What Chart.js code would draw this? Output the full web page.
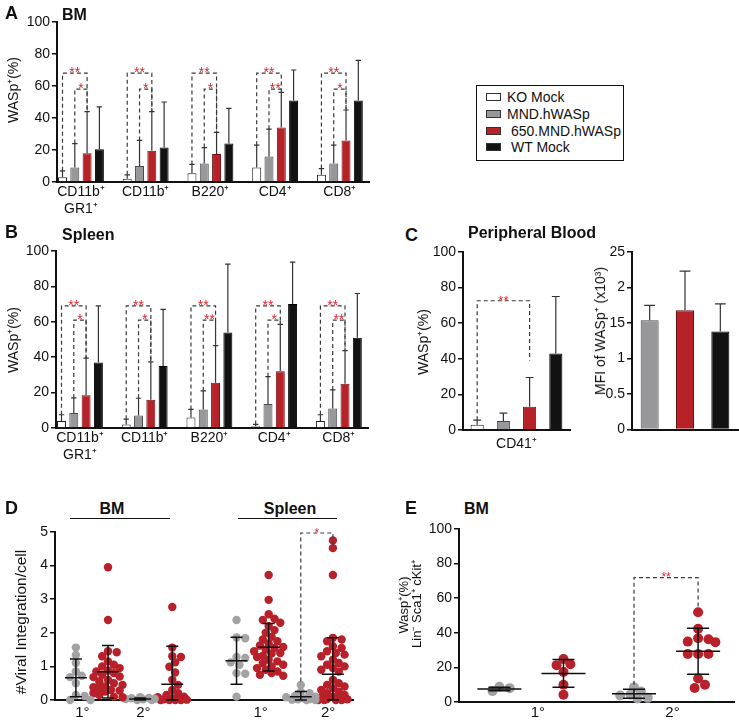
<!DOCTYPE html>
<html>
<head>
<meta charset="utf-8">
<script src="https://cdn.jsdelivr.net/npm/chart.js@4.4.1/dist/chart.umd.min.js"></script>
<style>
  body { margin: 0; background: #fff; }
  #page { position: relative; width: 739px; height: 723px; overflow: hidden; font-family: 'Liberation Sans', Arial, Helvetica, sans-serif; color: #111; }
  canvas { position: absolute; }
  .lbl { position: absolute; white-space: nowrap; line-height: 1; }
  .legend { position: absolute; left: 476px; top: 85px; width: 148px; height: 76px; box-sizing: border-box; border: 1.5px solid #111; }
  .sw { position: absolute; left: 486px; width: 15px; height: 8px; box-sizing: border-box; border: 1px solid #333; }
  .rule { position: absolute; height: 0; border-top: 1px solid #111; }
</style>
</head>
<body>
<div id="page">
  <canvas id="chartA"></canvas>
  <canvas id="chartB"></canvas>
  <canvas id="chartC1"></canvas>
  <canvas id="chartC2"></canvas>
  <canvas id="chartD"></canvas>
  <canvas id="chartE"></canvas>
  <div class="legend"></div>
</div>
<script>
// ---- data ----
const cellTypes = [['CD11b⁺', 'GR1⁺'], 'CD11b⁺', 'B220⁺', 'CD4⁺', 'CD8⁺'];
const groups = ['KO Mock', 'MND.hWASp', '650.MND.hWASp', 'WT Mock'];

// A: bone marrow, WASp+ (%) mean and SD
const bmKo = [3, 2, 5.5, 9, 4.6];
const bmKoSd = [4, 2.5, 5.5, 14, 3.8];
const bmMnd = [9, 10, 11.5, 16, 11.6];
const bmMndSd = [15, 16, 10, 17, 11.4];
const bm650 = [18, 19.5, 17.5, 34, 26];
const bm650Sd = [26, 24.5, 13.5, 22, 19];
const bmWt = [20.5, 21.5, 24, 51, 51];
const bmWtSd = [26.5, 28.5, 22, 19, 25];
const bmSig = [['**', '*'], ['**', '*'], ['**', '*'], ['**', '**'], ['**', '*']];

// B: spleen
const spKo = [4, 2, 6, 1, 4];
const spKoSd = [3.5, 3, 4.5, 1, 3.5];
const spMnd = [8.5, 7, 10.5, 13.5, 11];
const spMndSd = [8.5, 9.8, 10.5, 15.5, 10.5];
const sp650 = [18.5, 16, 25.5, 32, 25];
const sp650Sd = [21, 21.4, 21, 26.5, 18.7];
const spWt = [37, 35, 54, 70, 51];
const spWtSd = [32, 32, 38.6, 23.7, 25];
const spSig = [['**', '*'], ['**', '*'], ['**', '**'], ['**', '*'], ['**', '**']];

// C: peripheral blood
const pbLabel = ['CD41⁺'];
const pbMean = [3, 5, 13, 43];
const pbSd = [2.5, 4.5, 16.5, 32];
const mfiMean = [1.54, 1.68, 1.38];
const mfiSd = [0.21, 0.55, 0.39];
const mfiTickText = ['0', '0.5', '1', '15', '2', '25'];

// D: viral integrations per cell
const dBm1Ko = [1.56, 1.34, 1.1, 0.85, 0.72, 0.68, 0.5, 0.15, 0.12, 0, 0];
const dBm1Tx = [3.95, 2.38, 1.45, 1.42, 1.3, 1.15, 1.05, 1.0, 0.95, 0.88, 0.85, 0.8, 0.75, 0.7, 0.68, 0.6, 0.55, 0.5, 0.45, 0.4, 0.38, 0.35, 0.3, 0.28, 0.25, 0.2, 0.15, 0.1, 0.08];
const dBm2Ko = [0.08, 0.06, 0.05, 0.04, 0.03, 0.02, 0, 0];
const dBm2Tx = [2.77, 1.56, 1.3, 1.28, 1.12, 0.99, 0.82, 0.6, 0.45, 0.3, 0.2, 0.15, 0.1, 0.08, 0.05, 0.03, 0.02, 0.01, 0, 0, 0, 0];
const dSp1Ko = [2.38, 1.86, 1.84, 1.28, 1.25, 1.12, 1.05, 0.8, 0.78, 0.1];
const dSp1Tx = [3.72, 2.98, 2.55, 2.42, 2.38, 2.3, 2.2, 2.08, 2.0, 1.88, 1.8, 1.75, 1.68, 1.62, 1.58, 1.55, 1.5, 1.45, 1.4, 1.38, 1.32, 1.28, 1.2, 1.15, 1.1, 1.05, 1.0, 0.95, 0.9, 0.85, 0.8, 0.75, 0.72];
const dSp2Ko = [0.45, 0.25, 0.2, 0.12, 0.1, 0.08, 0.05, 0.03, 0.02, 0.01, 0, 0];
const dSp2Tx = [4.75, 4.52, 3.72, 1.85, 1.8, 1.75, 1.6, 1.55, 1.45, 1.4, 1.35, 1.3, 1.2, 1.1, 1.05, 1.0, 0.95, 0.9, 0.85, 0.6, 0.5, 0.45, 0.4, 0.35, 0.3, 0.25, 0.2, 0.15, 0.1, 0.08, 0.05, 0.03, 0.02, 0, 0, 0, 0];
const dMeans = [0.66, 0.84, 0.03, 0.47, 1.17, 1.57, 0.1, 0.77];
const dSds = [0.56, 0.78, 0.03, 1.13, 0.7, 0.71, 0.15, 1.08];
const dTickText = ['1°', '2°', '1°', '2°'];

// E: WASp+ in Lin- Sca1+ cKit+ (BM)
const eKo1 = [8.8, 8.0, 6.3];
const eTx1 = [24.8, 21.8, 21.3, 17.3, 10, 4.2];
const eKo2 = [8.5, 6.0, 4.3, 3.8, 2.4, 2.0];
const eTx2 = [51.9, 42.3, 36.9, 36.3, 34.9, 34.6, 27.7, 27.7, 27.7, 13.6, 10, 8.1];
const eMeans = [7.5, 16.5, 4.8, 29.4];
const eSds = [1, 8, 2.6, 13.3];
const eTickText = ['1°', '2°'];

// ---- styling ----
const FONT = "'Liberation Sans', Arial, Helvetica, sans-serif";
Chart.defaults.font.family = FONT;
Chart.defaults.color = '#111';
Chart.defaults.animation = false;

const fills = ['#ffffff', '#98979b', '#b72228', '#121212'];
const edges = ['#222222', '#4a4a4d', '#6e1014', '#000000'];
const dotGray = '#a3a3a6';
const dotRed = '#b8202a';
const page = document.getElementById('page');

function label(text, x, y, size, opts = {}) {
  const el = document.createElement('div');
  el.className = 'lbl';
  el.textContent = text;
  el.style.fontSize = size + 'px';
  if (opts.bold) el.style.fontWeight = 'bold';
  if (opts.rotate) {
    el.style.left = x + 'px';
    el.style.top = y + 'px';
    el.style.transform = 'translate(-50%,-50%) rotate(-90deg)';
  } else {
    el.style.top = (y - size * 0.5) + 'px';
    el.style.left = x + 'px';
    if (opts.center) el.style.transform = 'translateX(-50%)';
  }
  page.appendChild(el);
}

function rule(x1, x2, y) {
  const el = document.createElement('div');
  el.className = 'rule';
  el.style.left = x1 + 'px';
  el.style.width = (x2 - x1) + 'px';
  el.style.top = y + 'px';
  page.appendChild(el);
}

function place(id, area, axisW, padTop, padRight, axisH) {
  const c = document.getElementById(id);
  c.width = area.x1 - area.x0 + axisW + padRight;
  c.height = area.y1 - area.y0 + padTop + axisH;
  c.style.width = c.width + 'px';
  c.style.height = c.height + 'px';
  c.style.left = (area.x0 - axisW) + 'px';
  c.style.top = (area.y0 - padTop) + 'px';
  return c;
}

function yAxis(max, step, axisW, size, tickText) {
  return {
    min: 0, max,
    afterFit: s => { s.width = axisW; },
    ticks: { stepSize: step, padding: 2, font: { size }, color: '#111',
      callback: tickText ? v => tickText[Math.round(v / step)] : undefined },
    grid: { drawOnChartArea: false, tickLength: 5, color: '#111', lineWidth: 1.5 },
    border: { color: '#111', width: 2 }
  };
}

function bracket(ctx, x1, x2, top, b1, b2, text, size) {
  ctx.save();
  ctx.strokeStyle = '#3a3a3a';
  ctx.lineWidth = 1.2;
  ctx.setLineDash([4, 3]);
  ctx.beginPath();
  ctx.moveTo(x1, b1);
  ctx.lineTo(x1, top);
  ctx.lineTo(x2, top);
  ctx.lineTo(x2, b2);
  ctx.stroke();
  ctx.setLineDash([]);
  ctx.fillStyle = '#d9262f';
  ctx.font = size + 'px ' + FONT;
  ctx.textAlign = 'center';
  ctx.textBaseline = 'alphabetic';
  ctx.fillText(text, (x1 + x2) / 2, top + size * 0.3);
  ctx.restore();
}

function barErrors(means, sds) {
  return {
    id: 'barErrors',
    afterDatasetsDraw(chart) {
      const ctx = chart.ctx, y = chart.scales.y;
      ctx.save();
      ctx.strokeStyle = '#333';
      ctx.lineWidth = 1.2;
      chart.data.datasets.forEach((ds, i) => {
        chart.getDatasetMeta(i).data.forEach((bar, j) => {
          const top = y.getPixelForValue(means[i][j] + sds[i][j]);
          const cap = bar.width * 0.3;
          ctx.beginPath();
          ctx.moveTo(bar.x, bar.y);
          ctx.lineTo(bar.x, top);
          ctx.moveTo(bar.x - cap, top);
          ctx.lineTo(bar.x + cap, top);
          ctx.stroke();
        });
      });
      ctx.restore();
    }
  };
}

function barBrackets(list, size) {
  return {
    id: 'barBrackets',
    afterDatasetsDraw(chart) {
      const y = chart.scales.y;
      list.forEach(b => {
        const p = chart.getDatasetMeta(b.from).data[b.at];
        const q = chart.getDatasetMeta(b.to).data[b.at];
        bracket(chart.ctx, p.x, q.x, y.getPixelForValue(b.y),
          y.getPixelForValue(b.yFrom), y.getPixelForValue(b.yTo), b.text, size);
      });
    }
  };
}

// ---- A and B: grouped bars ----
function cellPanel(id, area, means, sds, sig, outerY, innerY) {
  const canvas = place(id, area, area.x0, 12, 4, 42);
  const list = sig.flatMap((s, j) => [
    { at: j, from: 0, to: 2, y: outerY, yFrom: means[0][j] + sds[0][j], yTo: means[2][j] + sds[2][j], text: s[0] },
    { at: j, from: 1, to: 2, y: innerY, yFrom: means[1][j] + sds[1][j], yTo: means[2][j] + sds[2][j], text: s[1] }
  ]);
  new Chart(canvas, {
    type: 'bar',
    data: {
      datasets: groups.map((g, i) => ({
        label: g,
        data: means[i].map((v, j) => ({ x: j, y: v })),
        backgroundColor: fills[i],
        borderColor: edges[i],
        borderWidth: 1,
        categoryPercentage: 0.76,
        barPercentage: 0.73
      }))
    },
    options: {
      responsive: false,
      layout: { padding: { top: 12, right: 4, left: 0, bottom: 0 } },
      plugins: { legend: { display: false }, tooltip: { enabled: false } },
      scales: {
        x: {
          type: 'linear', min: -0.37, max: 4.45, offset: false,
          afterBuildTicks: s => { s.ticks = cellTypes.map((_, i) => ({ value: i })); },
          afterFit: s => { s.height = 42; },
          ticks: { autoSkip: false, maxRotation: 0, padding: 2, font: { size: 14 }, color: '#111',
            callback: v => cellTypes[v] },
          grid: { display: false, drawTicks: false },
          border: { color: '#111', width: 2 }
        },
        y: yAxis(100, 20, area.x0, 14)
      }
    },
    plugins: [barErrors(means, sds), barBrackets(list, 14)]
  });
}

cellPanel('chartA', { x0: 57, x1: 369, y0: 22, y1: 182 },
  [bmKo, bmMnd, bm650, bmWt], [bmKoSd, bmMndSd, bm650Sd, bmWtSd], bmSig, 68, 58);
cellPanel('chartB', { x0: 56, x1: 368, y0: 251, y1: 428 },
  [spKo, spMnd, sp650, spWt], [spKoSd, spMndSd, sp650Sd, spWtSd], spSig, 69, 61);

// ---- C left: WASp+ in CD41+ ----
{
  const area = { x0: 463, x1: 570, y0: 252, y1: 430 };
  const canvas = place('chartC1', area, 40, 12, 2, 24);
  new Chart(canvas, {
    type: 'bar',
    data: {
      labels: pbLabel,
      datasets: groups.map((g, i) => ({
        label: g, data: [pbMean[i]],
        backgroundColor: fills[i], borderColor: edges[i], borderWidth: 1,
        categoryPercentage: 0.98, barPercentage: 0.5
      }))
    },
    options: {
      responsive: false,
      layout: { padding: { top: 12, right: 2, left: 0, bottom: 0 } },
      plugins: { legend: { display: false }, tooltip: { enabled: false } },
      scales: {
        x: {
          afterFit: s => { s.height = 24; },
          ticks: { padding: 6, font: { size: 14 }, color: '#111' },
          grid: { display: false, drawTicks: false },
          border: { color: '#111', width: 2 }
        },
        y: yAxis(100, 20, 40, 14)
      }
    },
    plugins: [
      barErrors(pbMean.map(v => [v]), pbSd.map(v => [v])),
      barBrackets([{ at: 0, from: 0, to: 2, y: 72.6, yFrom: pbMean[0] + pbSd[0], yTo: 39, text: '**' }], 13)
    ]
  });
}

// ---- C right: MFI ----
{
  const area = { x0: 632, x1: 738, y0: 252, y1: 430 };
  const canvas = place('chartC2', area, 32, 12, 1, 10);
  new Chart(canvas, {
    type: 'bar',
    data: {
      labels: groups.slice(1),
      datasets: [{
        label: 'MFI', data: mfiMean,
        backgroundColor: fills.slice(1), borderColor: edges.slice(1), borderWidth: 1,
        categoryPercentage: 1, barPercentage: 0.51
      }]
    },
    options: {
      responsive: false,
      layout: { padding: { top: 12, right: 1, left: 0, bottom: 0 } },
      plugins: { legend: { display: false }, tooltip: { enabled: false } },
      scales: {
        x: {
          afterFit: s => { s.height = 10; },
          ticks: { display: false },
          grid: { display: false, drawTicks: false },
          border: { color: '#111', width: 2 }
        },
        y: yAxis(2.5, 0.5, 32, 14, mfiTickText)
      }
    },
    plugins: [barErrors([mfiMean], [mfiSd])]
  });
}

// ---- D and E: dot plots with mean +/- SD ----
// spread dots sideways so they overlap less, within maxOff pixels of the column
function swarm(values, center, r, pxX, pxY, maxOff) {
  const placed = [];
  return values.map(v => {
    let best = 0, bestGap = -1;
    for (let k = 0; ; k++) {
      const off = (k % 2 ? 1 : -1) * Math.ceil(k / 2) * r * 0.7;
      if (Math.abs(off) > maxOff) break;
      const gap = Math.min(Infinity, ...placed.map(p => Math.hypot(p.o - off, (p.v - v) * pxY)));
      if (gap >= 1.6 * r) { best = off; break; }
      if (gap > bestGap) { best = off; bestGap = gap; }
    }
    placed.push({ o: best, v });
    return { x: center + best / pxX, y: v };
  });
}

function dotPanel(id, area, cfg) {
  const canvas = place(id, area, 40, 12, 1, cfg.axisH);
  const pxX = (area.x1 - area.x0) / (cfg.xMax - cfg.xMin);
  const pxY = (area.y1 - area.y0) / cfg.yMax;
  new Chart(canvas, {
    type: 'scatter',
    data: {
      datasets: cfg.sets.map((vals, i) => ({
        data: swarm(vals, cfg.pos[i], cfg.r, pxX, pxY, cfg.maxOff),
        backgroundColor: i % 2 ? dotRed : dotGray,
        borderWidth: 0,
        pointRadius: cfg.r,
        clip: false
      }))
    },
    options: {
      responsive: false,
      layout: { padding: { top: 12, right: 1, left: 0, bottom: 0 } },
      plugins: { legend: { display: false }, tooltip: { enabled: false } },
      scales: {
        x: {
          type: 'linear', min: cfg.xMin, max: cfg.xMax,
          afterBuildTicks: s => { s.ticks = cfg.ticksAt.map(v => ({ value: v })); },
          afterFit: s => { s.height = cfg.axisH; },
          ticks: { autoSkip: false, maxRotation: 0, padding: cfg.tickPad, font: { size: 15 }, color: '#111',
            callback: (v, i) => cfg.tickText[i] },
          grid: { display: false, drawTicks: false },
          border: { color: '#111', width: 2 }
        },
        y: yAxis(cfg.yMax, cfg.yStep, 40, 14)
      }
    },
    plugins: [{
      id: 'meanSd',
      afterDatasetsDraw(chart) {
        const ctx = chart.ctx, xs = chart.scales.x, ys = chart.scales.y;
        ctx.save();
        ctx.strokeStyle = '#111';
        ctx.lineWidth = 1.5;
        cfg.means.forEach((m, i) => {
          const x = xs.getPixelForValue(cfg.pos[i]);
          const mid = ys.getPixelForValue(m);
          const hi = ys.getPixelForValue(m + cfg.sds[i]);
          const lo = ys.getPixelForValue(Math.max(0, m - cfg.sds[i]));
          ctx.beginPath();
          ctx.moveTo(x, hi); ctx.lineTo(x, lo);
          ctx.moveTo(x - cfg.meanW / 2, mid); ctx.lineTo(x + cfg.meanW / 2, mid);
          ctx.moveTo(x - cfg.capW / 2, hi); ctx.lineTo(x + cfg.capW / 2, hi);
          ctx.moveTo(x - cfg.capW / 2, lo); ctx.lineTo(x + cfg.capW / 2, lo);
          ctx.stroke();
        });
        ctx.restore();
        cfg.brackets.forEach(b => bracket(ctx, xs.getPixelForValue(b.a), xs.getPixelForValue(b.b),
          ys.getPixelForValue(b.y), ys.getPixelForValue(b.yA), ys.getPixelForValue(b.yB), b.text, 12));
      }
    }]
  });
}

dotPanel('chartD', { x0: 55, x1: 357, y0: 532, y1: 700 }, {
  sets: [dBm1Ko, dBm1Tx, dBm2Ko, dBm2Tx, dSp1Ko, dSp1Tx, dSp2Ko, dSp2Tx],
  pos: [0, 1, 2, 3, 5, 6, 7, 8],
  means: dMeans, sds: dSds,
  xMin: -0.65, xMax: 8.65, yMax: 5, yStep: 1,
  ticksAt: [0.2, 2.1, 5.75, 7.85], tickText: dTickText,
  r: 4.2, maxOff: 16, meanW: 22, capW: 12, axisH: 24, tickPad: 4,
  brackets: [{ a: 7, b: 8, y: 4.97, yA: 0.55, yB: 4.58, text: '*' }]
});

dotPanel('chartE', { x0: 459, x1: 738, y0: 529, y1: 702 }, {
  sets: [eKo1, eTx1, eKo2, eTx2],
  pos: [0, 1, 2.1, 3.1],
  means: eMeans, sds: eSds,
  xMin: -0.63, xMax: 3.66, yMax: 100, yStep: 20,
  ticksAt: [0.6, 2.7], tickText: eTickText,
  r: 5, maxOff: 20, meanW: 44, capW: 22, axisH: 21, tickPad: 2,
  brackets: [{ a: 2.1, b: 3.1, y: 71.9, yA: 10, yB: 54.5, text: '**' }]
});

// ---- text around the plots ----
label('A', 5, 13, 18, { bold: true });
label('BM', 62, 15, 16, { bold: true });
label('WASp⁺(%)', 13, 90, 14, { rotate: true });
label('B', 5, 232, 18, { bold: true });
label('Spleen', 62, 235, 16, { bold: true });
label('WASp⁺(%)', 13, 340, 14, { rotate: true });
label('C', 405, 235, 18, { bold: true });
label('Peripheral Blood', 468, 233, 16, { bold: true });
label('WASp⁺(%)', 423, 342, 14, { rotate: true });
label('MFI of  WASp⁺ (x10³)', 600, 331, 14, { rotate: true });
label('D', 5, 508, 18, { bold: true });
label('BM', 112, 509, 16, { bold: true, center: true });
label('Spleen', 290, 509, 16, { bold: true, center: true });
rule(70, 170, 518);
rule(238, 337, 518);
label('#Viral Integration/cell', 21, 622, 15.5, { rotate: true });
label('E', 405, 508, 18, { bold: true });
label('BM', 464, 509, 16, { bold: true });
label('Wasp⁺(%)', 403, 605, 13, { rotate: true });
label('Lin⁻ Sca1⁺ cKit⁺', 416, 604, 13, { rotate: true });

// legend box
const legendY = [97, 114, 131, 147];
const legendX = [507, 507, 511, 511];
groups.forEach((g, i) => {
  const sw = document.createElement('div');
  sw.className = 'sw';
  sw.style.top = (legendY[i] - 4) + 'px';
  sw.style.background = fills[i];
  page.appendChild(sw);
  label(g, legendX[i], legendY[i], 14);
});
</script>
</body>
</html>
